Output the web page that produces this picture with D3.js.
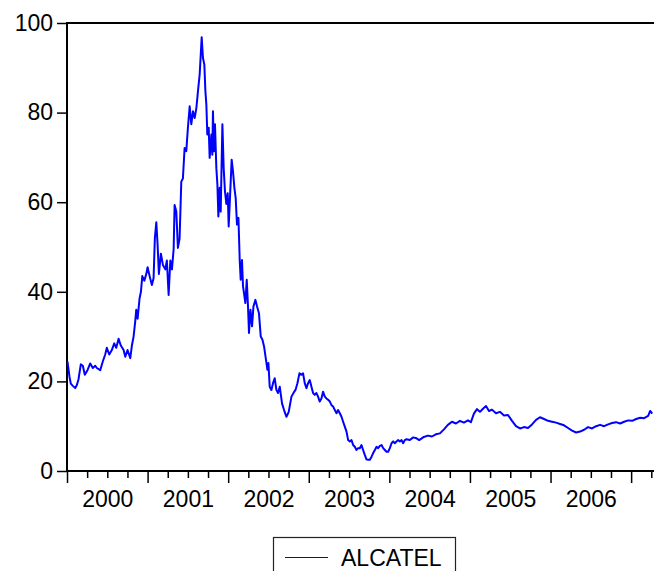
<!DOCTYPE html>
<html>
<head>
<meta charset="utf-8">
<script src="https://cdn.jsdelivr.net/npm/d3@7"></script>
<style>
  body { margin: 0; background: #fff; }
  svg { display: block; font-family: "Liberation Sans", Arial, sans-serif; }
</style>
</head>
<body>
<div class="chart"></div>
<script>
// ALCATEL price, time given as decimal year
const years = [
  2000.000, 2000.025, 2000.041, 2000.066, 2000.096, 2000.116, 2000.137, 2000.165, 2000.190, 2000.215,
  2000.248, 2000.282, 2000.314, 2000.344, 2000.364, 2000.406, 2000.439, 2000.468, 2000.488, 2000.518,
  2000.550, 2000.580, 2000.605, 2000.634, 2000.662, 2000.696, 2000.717, 2000.745, 2000.779, 2000.799,
  2000.820, 2000.841, 2000.853, 2000.870, 2000.894, 2000.911, 2000.928, 2000.953, 2000.978, 2000.994,
  2001.019, 2001.047, 2001.068, 2001.084, 2001.102, 2001.118, 2001.134, 2001.159, 2001.184, 2001.214,
  2001.233, 2001.255, 2001.276, 2001.296, 2001.317, 2001.329, 2001.350, 2001.370, 2001.391, 2001.412,
  2001.432, 2001.453, 2001.474, 2001.494, 2001.516, 2001.536, 2001.557, 2001.578, 2001.599, 2001.619,
  2001.640, 2001.665, 2001.681, 2001.698, 2001.711, 2001.723, 2001.735, 2001.752, 2001.764, 2001.785,
  2001.797, 2001.805, 2001.817, 2001.830, 2001.847, 2001.860, 2001.872, 2001.888, 2001.901, 2001.922,
  2001.938, 2001.954, 2001.971, 2001.988, 2002.000, 2002.016, 2002.037, 2002.053, 2002.071, 2002.087,
  2002.103, 2002.121, 2002.137, 2002.149, 2002.165, 2002.178, 2002.190, 2002.207, 2002.224, 2002.240,
  2002.252, 2002.270, 2002.290, 2002.307, 2002.332, 2002.352, 2002.376, 2002.398, 2002.419, 2002.439,
  2002.463, 2002.481, 2002.493, 2002.509, 2002.530, 2002.550, 2002.571, 2002.592, 2002.612, 2002.634,
  2002.662, 2002.687, 2002.717, 2002.745, 2002.779, 2002.804, 2002.829, 2002.853, 2002.878, 2002.903,
  2002.923, 2002.944, 2002.965, 2002.985, 2003.006, 2003.027, 2003.047, 2003.068, 2003.089, 2003.109,
  2003.130, 2003.151, 2003.171, 2003.193, 2003.213, 2003.234, 2003.255, 2003.276, 2003.296, 2003.317,
  2003.338, 2003.358, 2003.379, 2003.400, 2003.420, 2003.441, 2003.462, 2003.482, 2003.503, 2003.524,
  2003.544, 2003.565, 2003.586, 2003.606, 2003.627, 2003.648, 2003.668, 2003.689, 2003.710, 2003.730,
  2003.752, 2003.773, 2003.793, 2003.814, 2003.835, 2003.855, 2003.876, 2003.897, 2003.917, 2003.938,
  2003.959, 2003.979, 2004.000, 2004.021, 2004.041, 2004.062, 2004.083, 2004.103, 2004.124, 2004.145,
  2004.165, 2004.186, 2004.207, 2004.248, 2004.290, 2004.331, 2004.364, 2004.422, 2004.472, 2004.522,
  2004.571, 2004.621, 2004.671, 2004.720, 2004.770, 2004.820, 2004.870, 2004.919, 2004.969, 2005.006,
  2005.043, 2005.081, 2005.118, 2005.155, 2005.193, 2005.230, 2005.267, 2005.317, 2005.366, 2005.416,
  2005.466, 2005.516, 2005.565, 2005.615, 2005.665, 2005.714, 2005.764, 2005.814, 2005.863, 2005.913,
  2005.963, 2006.012, 2006.062, 2006.112, 2006.161, 2006.211, 2006.261, 2006.311, 2006.360, 2006.410,
  2006.460, 2006.509, 2006.559, 2006.609, 2006.658, 2006.708, 2006.758, 2006.807, 2006.857, 2006.907,
  2006.957, 2007.006, 2007.056, 2007.106, 2007.155, 2007.205, 2007.230, 2007.255
]
const alcatel = [
  24.4, 21.0, 19.5, 19.0, 18.5, 19.2, 20.5, 23.8, 23.5, 21.5,
  22.5, 24.0, 23.0, 23.5, 23.0, 22.5, 24.5, 26.0, 27.5, 26.0,
  27.0, 28.5, 27.5, 29.5, 28.0, 27.0, 25.5, 27.0, 25.2, 28.0,
  30.0, 33.5, 36.0, 34.0, 38.5, 40.0, 43.5, 42.5, 44.0, 45.5,
  43.5, 41.5, 43.0, 52.0, 55.5, 50.5, 44.0, 48.5, 46.0, 45.0,
  47.0, 39.3, 47.0, 45.0, 49.5, 59.4, 57.9, 49.8, 51.9, 64.6,
  65.3, 72.1, 71.4, 76.6, 81.4, 77.4, 80.3, 78.8, 81.0, 84.8,
  88.5, 96.8, 92.2, 90.7, 84.8, 81.8, 75.1, 76.6, 69.9, 75.1,
  70.6, 80.3, 71.4, 77.4, 67.6, 63.9, 56.8, 63.2, 57.9, 77.4,
  67.6, 62.4, 59.6, 62.0, 54.6, 60.9, 69.5, 67.0, 63.2, 60.9,
  55.0, 56.5, 47.0, 42.7, 47.1, 41.2, 39.7, 37.5, 42.7, 36.7,
  30.8, 36.0, 32.3, 36.7, 38.2, 36.7, 35.2, 30.0, 29.3, 27.8,
  24.8, 22.6, 24.1, 18.8, 18.1, 19.6, 20.7, 18.1, 17.4, 18.8,
  15.1, 13.6, 12.1, 13.2, 16.6, 17.4, 18.1, 19.6, 21.8, 21.5,
  21.8, 19.6, 18.5, 19.6, 20.3, 18.8, 17.4, 17.0, 17.4, 16.6,
  15.5, 16.2, 17.7, 16.6, 16.2, 15.9, 15.5, 14.7, 14.4, 13.6,
  12.9, 13.6, 12.9, 12.1, 11.0, 9.9, 8.8, 6.9, 6.6, 6.9,
  5.8, 5.4, 4.7, 5.1, 5.1, 5.8, 4.7, 3.6, 2.6, 2.5,
  2.5, 3.2, 4.0, 4.7, 5.4, 5.1, 5.6, 5.8, 5.1, 4.7,
  4.3, 4.3, 5.1, 6.2, 6.6, 6.2, 6.6, 6.9, 6.6, 6.9,
  6.2, 6.9, 7.1, 6.9, 7.5, 7.3, 6.9, 7.6, 7.9, 7.7,
  8.2, 8.4, 9.3, 10.3, 11.0, 10.6, 11.2, 10.8, 11.3, 10.9,
  12.8, 13.8, 13.2, 13.9, 14.5, 13.4, 13.7, 12.9, 13.2, 12.4,
  12.5, 11.2, 10.0, 9.5, 9.8, 9.6, 10.4, 11.4, 12.0, 11.6,
  11.2, 11.0, 10.8, 10.5, 10.2, 9.6, 9.0, 8.6, 8.8, 9.2,
  9.8, 9.5, 10.0, 10.3, 10.0, 10.4, 10.7, 10.9, 10.6, 11.0,
  11.3, 11.2, 11.6, 11.9, 11.8, 12.3, 13.4, 12.8
]
const yTicks = [0, 20, 40, 60, 80, 100]
const yearLabels = [2000, 2001, 2002, 2003, 2004, 2005, 2006]
const seriesName = 'ALCATEL'

const width = 654, height = 571
const margin = ({top: 23, right: 0, bottom: 100, left: 67})

const svg = d3.select('.chart').append('svg')
  .attr('width', width)
  .attr('height', height)

const data = years.map((t, i) => ({t: t, v: alcatel[i]}))

const x = d3.scaleLinear()
  .domain([2000, 2007.29])
  .range([margin.left + 0.5, 655])

const y = d3.scaleLinear()
  .domain([0, 100])
  .range([471, margin.top])

// frame
svg.append('rect')
  .attr('x', margin.left)
  .attr('y', margin.top)
  .attr('width', 700)
  .attr('height', 471 - margin.top)
  .attr('fill', 'none')
  .attr('stroke', '#000')
  .attr('stroke-width', 2)

// y axis
const yAxis = d3.axisLeft(y)
  .tickValues(yTicks)
  .tickSize(10)
  .tickPadding(4)
svg.append('g')
  .attr('class', 'axis y-axis')
  .attr('transform', `translate(${margin.left},0)`)
  .call(yAxis)
  .call(g => g.select('.domain').remove())
  .call(g => g.selectAll('line').attr('stroke-width', 1.5))
  .call(g => g.selectAll('text').attr('font-size', 23).attr('fill', '#000')
    .attr('font-family', '"Liberation Sans", Arial, sans-serif'))

// x axis: quarter ticks, longer at year boundaries
const quarters = d3.range(2000, 2007.3, 0.25)
const xg = svg.append('g').attr('class', 'axis x-axis')
xg.selectAll('line')
  .data(quarters)
  .enter()
  .append('line')
  .attr('x1', d => x(d))
  .attr('x2', d => x(d))
  .attr('y1', 471)
  .attr('y2', d => Number.isInteger(d) ? 483 : 478)
  .attr('stroke', '#000')
  .attr('stroke-width', 1.5)
xg.selectAll('text')
  .data(yearLabels)
  .enter()
  .append('text')
  .attr('x', d => x(d + 0.5))
  .attr('y', 507)
  .attr('text-anchor', 'middle')
  .attr('font-size', 23)
  .text(d => d)

// series line
const line = d3.line()
  .x(d => x(d.t))
  .y(d => y(d.v))
svg.append('path')
  .datum(data)
  .attr('d', line)
  .attr('fill', 'none')
  .attr('stroke', '#0000ff')
  .attr('stroke-width', 2)
  .attr('stroke-linejoin', 'round')

// legend
const legend = svg.append('g').attr('class', 'legend')
legend.append('rect')
  .attr('x', 273.5)
  .attr('y', 537.5)
  .attr('width', 182)
  .attr('height', 50)
  .attr('fill', '#fff')
  .attr('stroke', '#222')
  .attr('stroke-width', 1.2)
legend.append('line')
  .attr('x1', 285)
  .attr('x2', 328)
  .attr('y1', 557.5)
  .attr('y2', 557.5)
  .attr('stroke', '#0000ff')
  .attr('stroke-width', 1)
legend.append('text')
  .attr('x', 341)
  .attr('y', 566)
  .attr('font-size', 23)
  .text(seriesName)
</script>
</body>
</html>
